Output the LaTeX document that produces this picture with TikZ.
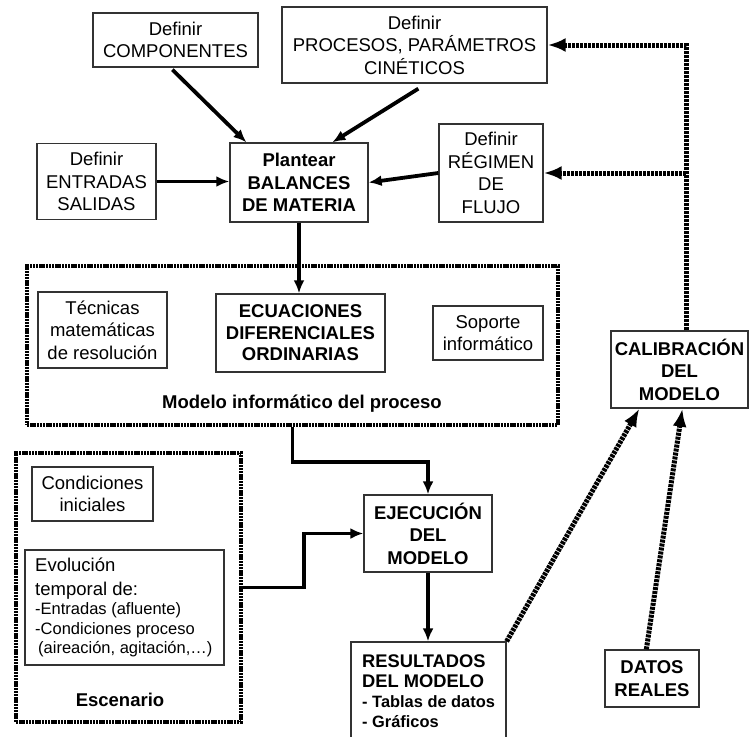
\documentclass[tikz,border=0pt]{standalone}
\usepackage{fontspec}
\setmainfont{Liberation Sans}
\usetikzlibrary{arrows.meta,calc}
\begin{document}
\begin{tikzpicture}[x=1pt,y=-1pt,
  box/.style={draw=black!80,line width=1.3pt,inner sep=0pt,align=center,
    font=\fontsize{18.5}{22.5}\selectfont},
  bbox/.style={box,font=\fontsize{18.5}{22.5}\selectfont\bfseries},
  frame/.style={draw=black,line width=3.6pt,dash pattern=on 2.4pt off 0.8pt,inner sep=0pt},
  arr/.style={line width=3.8pt,-{Latex[length=13pt,width=11pt]}},
  dotline/.style={line width=5pt,dash pattern=on 3pt off 1pt},
  darr/.style={dotline,-{Latex[length=18pt,width=14pt]}},
  lbl/.style={inner sep=0pt,anchor=base west},
  big/.style={font=\fontsize{18.5}{22.5}\selectfont},
  small/.style={font=\fontsize{16.5}{20}\selectfont},
  bigb/.style={font=\fontsize{18.3}{22}\selectfont\bfseries},
  smallb/.style={font=\fontsize{16.4}{20}\selectfont\bfseries}
]
\useasboundingbox (0,0) rectangle (749,736);
\clip (0,0) rectangle (749,736);

% top boxes
\node[box,minimum width=165pt,minimum height=54pt] (comp) at (175.5,40) {Definir\\COMPONENTES};
\node[box,minimum width=265pt,minimum height=76pt] (proc) at (414.5,45) {Definir\\PROCESOS, PARÁMETROS\\CINÉTICOS};
\node[box,minimum width=119pt,minimum height=76pt] (entr) at (96.5,181.5) {Definir\\ENTRADAS\\SALIDAS};
\node[bbox,minimum width=138pt,minimum height=79pt] (plan) at (299,182.5) {Plantear\\BALANCES\\DE MATERIA};
\node[box,minimum width=104pt,minimum height=98pt] (regi) at (491,173) {Definir\\RÉGIMEN\\DE\\FLUJO};

% modelo informatico
\node[frame,minimum width=531pt,minimum height=159pt] (modelo) at (292.5,345.5) {};
\node[box,minimum width=129pt,minimum height=76pt] (tecn) at (102.5,330) {Técnicas\\matemáticas\\de resolución};
\node[bbox,minimum width=169pt,minimum height=78pt,font=\fontsize{18.5}{21.5}\selectfont\bfseries] (ecua) at (300.5,333) {ECUACIONES\\DIFERENCIALES\\ORDINARIAS};
\node[box,minimum width=110pt,minimum height=54pt] (sopo) at (488,333) {Soporte\\informático};
\node[inner sep=0pt,font=\fontsize{18.5}{22.5}\selectfont\bfseries] (modlbl) at (302,404) {Modelo informático del proceso};

% calibracion
\node[bbox,minimum width=137pt,minimum height=77pt] (cali) at (679.5,369.5) {CALIBRACIÓN\\DEL\\MODELO};

% escenario
\node[frame,minimum width=225pt,minimum height=269pt] (escen) at (128.5,587.5) {};
\node[box,minimum width=121pt,minimum height=54pt] (cond) at (92.5,494) {Condiciones\\iniciales};
\node[box,minimum width=199pt,minimum height=115pt] (evol) at (124.5,607.5) {};
\node[lbl,big] (ev1) at (35,571) {Evolución};
\node[lbl,big] (ev2) at (35,595) {temporal de:};
\node[lbl,small] (ev3) at (35,614) {-Entradas (afluente)};
\node[lbl,small] (ev4) at (35,634) {-Condiciones proceso};
\node[lbl,small] (ev5) at (38,653) {(aireación, agitación,…)};
\node[inner sep=0pt,font=\fontsize{18.5}{22.5}\selectfont\bfseries] (esclbl) at (120,700) {Escenario};

% ejecucion y resultados
\node[bbox,minimum width=128pt,minimum height=77pt] (ejec) at (428,533.5) {EJECUCIÓN\\DEL\\MODELO};
\node[box,minimum width=155pt,minimum height=108pt] (resu) at (428.5,696) {};
\node[lbl,bigb] (re1) at (362,667) {RESULTADOS};
\node[lbl,bigb] (re2) at (362,687) {DEL MODELO};
\node[lbl,smallb] (re3) at (362,707) {- Tablas de datos};
\node[lbl,smallb] (re4) at (362,727) {- Gráficos};

\node[bbox,minimum width=94pt,minimum height=57pt] (dato) at (652,678.5) {DATOS\\REALES};

% solid connectors
\draw[arr] ($(comp.south west)+(80,2)$) -- ($(plan.north west)+(17,0)$);
\draw[arr] ($(proc.south west)+(137,5)$) -- ($(plan.north west)+(103,0)$);
\draw[arr] (entr.east) -- (entr.east -| plan.west);
\draw[arr] (regi.west) -- (plan.east);
\draw[arr] (plan.south) -- (plan.south |- ecua.north);
\draw[arr] (modelo.south) -- ++(0,35) -| (ejec.north);
\draw[arr] (escen.east) -- ++(61,0) |- (ejec.west);
\draw[arr] (ejec.south) -- (ejec.south |- resu.north);

% dotted connectors
\coordinate (cA) at (686,45);
\coordinate (cB) at (686,173);
\draw[darr] (cali.north -| cA) -- (cA) -- (proc.east);
\draw[darr] (cB) -- (regi.east);
\draw[darr] (resu.north east) -- ($(cali.south west)+(29,0)$);
\draw[darr] ($(dato.north west)+(42,0)$) -- ($(cali.south west)+(72,0)$);
\end{tikzpicture}
\end{document}
